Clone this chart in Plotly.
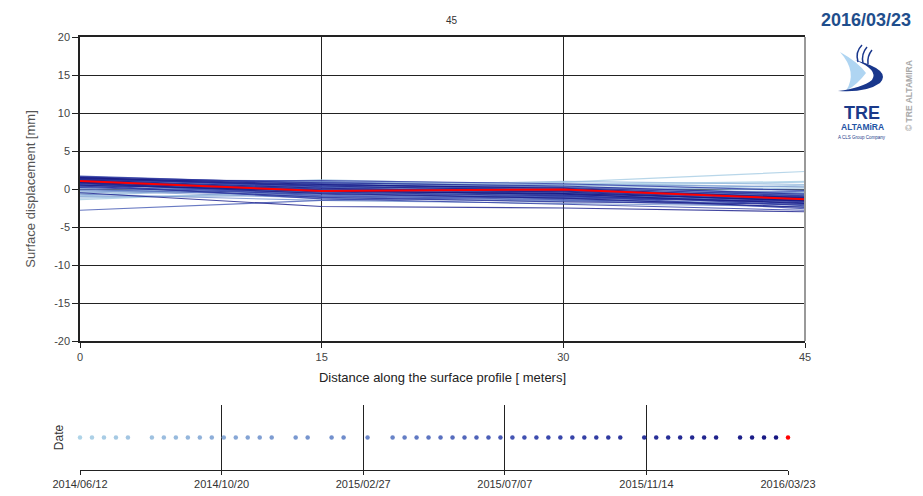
import plotly.graph_objects as go
from datetime import date, timedelta

# ---------------- data ----------------
distances = [0, 15, 30, 45]
start_day = date(2014, 6, 12)
day_offsets = [0, 11, 22, 33, 44, 66, 77, 88, 99, 110, 121, 132, 143, 154, 165, 176,
               198, 209, 231, 242, 264, 287, 298, 309, 320, 331, 342, 353, 364, 375,
               386, 397, 408, 419, 430, 441, 452, 463, 474, 485, 496, 518, 529, 540,
               551, 562, 573, 584, 606, 617, 628, 639, 650]
dates = [(start_day + timedelta(days=d)).isoformat() for d in day_offsets]

disp_at_0 = [-0.3, -1.4, -0.8, -0.5, -1.2, 0.3, -0.9, 0.1, -0.6, 0.5, -1.0, 0.2, -0.4, 0.8,
             -0.2, 0.6, 1.0, -0.7, 0.4, 1.2, -0.1, 0.9, 1.5, 0.7, 1.3, 0.0, 1.6, 0.5, -2.8,
             1.1, 0.8, 1.4, 0.3, 1.7, 0.9, 1.2, 0.6, 1.5, 0.2, 1.0, 1.3, 0.4, 1.6, 0.7, 1.1,
             -0.5, 1.4, 0.8, 1.2, 0.5, 1.5, 0.9, 1.05]
disp_at_15 = [0.2, -0.2, 0.6, 0.9, -0.5, 1.2, 0.4, -0.6, 0.8, 0.0, -0.9, 1.0, -0.3, 0.5,
              -1.2, 0.3, -0.4, -1.5, 0.7, -0.1, -0.8, 0.2, 0.4, -0.6, 0.9, -1.0, 0.1, -0.3,
              -1.5, 0.6, -0.9, 0.2, -0.5, 0.7, -0.2, 1.1, -1.3, 0.3, -0.7, 0.0, 0.5, -1.1,
              0.8, -0.4, -0.1, -2.3, 0.4, -0.6, 0.1, -0.2, 0.6, -0.3, -0.25]
disp_at_30 = [0.6, 0.9, 0.4, 0.8, -0.3, 0.5, 1.0, -0.8, 0.3, -0.5, -1.2, 0.2, -1.0, -0.2,
              -1.6, 0.6, -0.9, -1.9, -0.1, -0.6, -1.3, 0.1, -0.4, -1.1, 0.3, -1.5, -0.3,
              -0.7, -0.9, 0.0, -1.4, -0.5, -1.0, -0.2, -0.8, 0.7, -2.0, -0.1, -1.2, -0.6,
              0.2, -1.7, 0.4, -0.9, -0.3, -2.5, -0.2, -1.2, -0.4, -0.7, 0.1, -0.6, -0.05]
disp_at_45 = [1.0, 2.3, 0.9, 0.2, 0.5, 0.0, 0.6, -0.4, -0.2, -0.9, -0.6, -0.5, -1.5, -0.7,
              -1.1, 0.3, -1.8, -2.3, -1.0, -1.4, -2.0, -0.8, -1.6, -1.3, -0.6, -2.4, -1.2,
              -1.7, -0.3, -1.1, -2.1, -1.5, -1.9, -1.0, -2.6, -0.2, -2.8, -1.3, -1.6, -2.2,
              -0.9, -2.0, -0.7, -1.8, -1.4, -3.0, -1.1, -2.4, -1.6, -1.9, -1.2, -1.5, -1.35]

title_text = "45"
current_date_label = "2016/03/23"
y_tick_vals = [-20, -15, -10, -5, 0, 5, 10, 15, 20]
y_tick_text = ["-20", "-15", "-10", "-5", "0", "5", "10", "15", "20"]
x_tick_vals = [0, 15, 30, 45]
time_ticks = ["2014-06-12", "2014-10-20", "2015-02-27", "2015-07-07", "2015-11-14", "2016-03-23"]
time_tick_labels = ["2014/06/12", "2014/10/20", "2015/02/27", "2015/07/07", "2015/11/14", "2016/03/23"]

# ---------------- styling ----------------
OFF = 8  # page body margin
W, H = 923 - OFF, 496 - OFF
def px(x): return (x - OFF) / W
def py(y): return 1 - (y - OFF) / H

stops = [(0.0, (175, 212, 232)), (0.35, (115, 145, 205)), (0.65, (60, 75, 175)), (1.0, (22, 22, 130))]
def grad(t):
    for (t0, c0), (t1, c1) in zip(stops[:-1], stops[1:]):
        if t <= t1:
            f = (t - t0) / (t1 - t0) if t1 > t0 else 0
            return "rgb(%d,%d,%d)" % tuple(round(a + (b - a) * f) for a, b in zip(c0, c1))
    return "rgb(%d,%d,%d)" % stops[-1][1]

n = len(dates)
colors = [grad(i / (n - 2)) for i in range(n - 1)] + ["red"]

font_main = "Liberation Sans Narrow, Arial Narrow, Liberation Sans, Arial, sans-serif"

fig = go.Figure()

for i in range(n - 1):
    fig.add_trace(go.Scatter(
        x=distances, y=[disp_at_0[i], disp_at_15[i], disp_at_30[i], disp_at_45[i]],
        mode="lines", line=dict(color=colors[i], width=1.1), opacity=0.85,
        xaxis="x", yaxis="y", showlegend=False, hoverinfo="skip"))
fig.add_trace(go.Scatter(
    x=distances, y=[disp_at_0[-1], disp_at_15[-1], disp_at_30[-1], disp_at_45[-1]],
    mode="lines", line=dict(color="red", width=2), xaxis="x", yaxis="y", showlegend=False))

fig.add_trace(go.Scatter(
    x=dates, y=[0.5] * n, mode="markers",
    marker=dict(color=colors, size=4.5), cliponaxis=False,
    xaxis="x2", yaxis="y2", showlegend=False))

axis_font = dict(family=font_main, size=11, color="#444")
fig.update_layout(
    width=W, height=H, margin=dict(l=0, r=0, t=0, b=0, autoexpand=False),
    paper_bgcolor="white", plot_bgcolor="white",
    xaxis=dict(domain=[px(80), px(805)], range=[0, 45], tickvals=x_tick_vals,
               automargin=False,
               showgrid=True, gridcolor="#222", gridwidth=1, zeroline=False,
               showline=True, linecolor="#222", linewidth=1.5, mirror=True,
               ticks="outside", ticklen=5, tickcolor="#222", tickfont=axis_font,
               title=dict(text="Distance along the surface profile [ meters]",
                          font=dict(family=font_main, size=13, color="#222"), standoff=11)),
    yaxis=dict(domain=[py(341), py(37)], range=[-20, 20], tickvals=y_tick_vals, ticktext=y_tick_text,
               automargin=False,
               showgrid=True, gridcolor="#222", gridwidth=1, zeroline=False,
               showline=True, linecolor="#222", linewidth=1.5,
               ticks="outside", ticklen=6, tickcolor="#222", tickfont=axis_font,
               title=dict(text="Surface displacement [mm]",
                          font=dict(family=font_main, size=13, color="#555"), standoff=16)),
    xaxis2=dict(domain=[px(80), px(788)], type="date", range=[time_ticks[0], time_ticks[-1]],
                automargin=False,
                tickvals=time_ticks, ticktext=time_tick_labels,
                showgrid=True, gridcolor="#222", gridwidth=1, zeroline=False,
                showline=True, linecolor="#222", linewidth=1,
                ticks="outside", ticklen=4, tickcolor="#222",
                tickfont=dict(family=font_main, size=11, color="#333"), anchor="y2"),
    yaxis2=dict(domain=[py(470), py(405)], range=[0, 1], showticklabels=False,
                automargin=False,
                showgrid=False, zeroline=False, showline=False, anchor="x2",
                title=dict(text="Date", font=dict(family=font_main, size=12, color="#333"),
                           standoff=12)),
)

# right gray border of main plot
shapes = [dict(type="line", xref="paper", yref="paper", x0=px(805), x1=px(805),
               y0=py(341), y1=py(37), line=dict(color="#999", width=2))]

def P(x, y): return "%.5f,%.5f" % (px(x), py(y))

light = "M %s Q %s %s Q %s %s Q %s %s Z" % (P(840, 52), P(858, 62), P(866, 73), P(858, 84), P(846, 91),
                                           P(858, 72), P(840, 52))
dark = "M %s Q %s %s Q %s %s Q %s %s Q %s %s Z" % (P(855, 60), P(892, 70), P(880, 83), P(866, 93), P(838, 91),
                                                  P(862, 88), P(872, 80), P(879, 70), P(855, 60))
shapes.append(dict(type="path", xref="paper", yref="paper", path=light,
                   fillcolor="rgb(175,213,242)", line=dict(width=0)))
shapes.append(dict(type="path", xref="paper", yref="paper", path=dark,
                   fillcolor="rgb(25,55,140)", line=dict(width=0)))
for (a, b, c) in [((858, 62), (855, 52), (862, 45)), ((863, 63), (861, 54), (867, 47)), ((868, 64), (867, 56), (872, 50))]:
    shapes.append(dict(type="path", xref="paper", yref="paper",
                       path="M %s Q %s %s" % (P(*a), P(*b), P(*c)),
                       line=dict(color="rgb(25,55,140)", width=1.5)))
fig.update_layout(shapes=shapes)

def A(text, x, y, size, color, family=font_main, angle=0):
    return dict(text=text, x=px(x), y=py(y), xref="paper", yref="paper", showarrow=False,
                xanchor="center", yanchor="middle", textangle=angle,
                font=dict(family=family, size=size, color=color))

ann = [
    A(title_text, 452, 20, 10, "#333"),
    A("<b>" + current_date_label + "</b>", 866, 20, 18, "#1f4e8c"),
    A("<b>TRE</b>", 862, 113, 18, "#1a3a8a", "Liberation Sans, Arial"),
    A("<b>ALTAMiRA</b>", 862, 127, 8.5, "#1f55a5", "Liberation Sans, Arial"),
    A("A CLS Group Company", 862, 137, 4.5, "#1a3a8a", "Liberation Sans, Arial"),
    A("<b>© TRE ALTAMIRA</b>", 909, 96, 8.5, "#aaa", "Liberation Sans, Arial", -90),
]
fig.update_layout(annotations=ann)

fig.write_html("out.html")
